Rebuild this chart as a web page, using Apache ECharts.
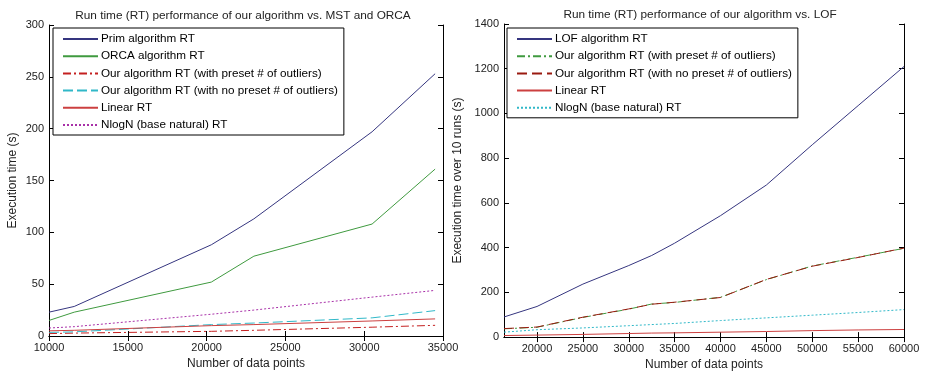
<!DOCTYPE html>
<html>
<head>
<meta charset="utf-8">
<script src="https://cdn.jsdelivr.net/npm/echarts@6/dist/echarts.min.js"></script>
<style>
  html, body { margin: 0; padding: 0; background: #fff; }
  .plot { position: absolute; left: 0; top: 0; width: 926px; height: 376px; }
</style>
</head>
<body>
<div id="leftChart" class="plot"></div>
<div id="rightChart" class="plot"></div>
<script>
// left: vs MST and ORCA
const leftX = [10000, 11600, 20300, 23000, 30500, 34500];
const primRT = [23, 28.5, 88, 113, 197, 253];
const orcaRT = [15, 23, 52, 77, 108, 161];
const oursPresetL = [2.3, 2.8, 4.5, 5.5, 8.5, 10.3];
const oursNoPresetL = [3.5, 4, 11, 12.5, 17.5, 24.5];
const linearL = [5, 5.5, 10, 11, 14.5, 16.5];
const nlognL = [7.7, 9, 21, 25, 37.5, 44];
const leftXTicks = [10000, 15000, 20000, 25000, 30000, 35000];

// right: vs LOF
const rightX = [16400, 20000, 25000, 30000, 32500, 35000, 40000, 45000, 50000, 55000, 60000];
const lofRT = [90, 137, 237, 320, 365, 420, 543, 680, 860, 1035, 1210];
const oursPresetR = [37, 44, 88, 125, 148, 155, 178, 257, 318, 357, 397];
const oursNoPresetR = [38, 45, 89, 126, 147, 156, 177, 258, 317, 356, 398];
const linearR = [7, 9, 12, 16, 18, 19, 22, 25, 29, 32, 34];
const nlognR = [22, 33, 41, 51, 56, 61, 74, 86, 98, 110, 123];
const rightXTicks = [20000, 25000, 30000, 35000, 40000, 45000, 50000, 55000, 60000];

const FONT = 'Liberation Sans, Arial, sans-serif';

function pairs(xs, ys) {
    return xs.map(function (x, i) { return [x, ys[i]]; });
}

function line(name, xs, ys, color, type) {
    return {
        name: name,
        type: 'line',
        symbol: 'none',
        data: pairs(xs, ys),
        lineStyle: { color: color, width: 1, type: type },
        itemStyle: { color: color },
        emphasis: { disabled: true },
        silent: true
    };
}

function plain(v) { return String(v); }

function boxAxes(xmin, xmax, xticks, ymin, ymax, yint, yname, ynameGap) {
    const axLine = { show: true, lineStyle: { color: '#000', width: 1 } };
    const tick = { inside: true, length: 5, lineStyle: { color: '#000' } };
    const lbl = { color: '#222', fontSize: 11, fontFamily: FONT, formatter: plain };
    return {
        xAxis: [
            {
                type: 'value', min: xmin, max: xmax, position: 'bottom',
                axisLine: axLine, splitLine: { show: false },
                axisTick: Object.assign({ customValues: xticks }, tick),
                axisLabel: Object.assign({ customValues: xticks, margin: 6 }, lbl),
                name: 'Number of data points', nameLocation: 'middle', nameGap: 20,
                nameTextStyle: { color: '#222', fontSize: 12, fontFamily: FONT }
            },
            {
                type: 'value', min: xmin, max: xmax, position: 'top',
                axisLine: axLine, splitLine: { show: false },
                axisTick: Object.assign({ customValues: xticks }, tick),
                axisLabel: { show: false }
            }
        ],
        yAxis: [
            {
                type: 'value', min: ymin, max: ymax, interval: yint, position: 'left',
                axisLine: axLine, splitLine: { show: false },
                axisTick: tick,
                axisLabel: Object.assign({ margin: 5 }, lbl),
                name: yname, nameLocation: 'middle', nameGap: ynameGap,
                nameTextStyle: { color: '#222', fontSize: 12, fontFamily: FONT }
            },
            {
                type: 'value', min: ymin, max: ymax, interval: yint, position: 'right',
                axisLine: axLine, splitLine: { show: false },
                axisTick: tick,
                axisLabel: { show: false }
            }
        ]
    };
}

function legendBox(left, top, names) {
    return {
        orient: 'vertical', left: left, top: top,
        data: names,
        itemWidth: 35, itemHeight: 10, itemGap: 5.2,
        padding: [5, 6, 4, 9],
        backgroundColor: '#fff',
        borderColor: '#000', borderWidth: 1, borderRadius: 0,
        selectedMode: false,
        itemStyle: { opacity: 0 },
        textStyle: { color: '#000', fontSize: 11.7, fontFamily: FONT, lineHeight: 12, padding: [0, 0, 0, -2] }
    };
}

const leftNames = ['Prim algorithm RT', 'ORCA algorithm RT',
    'Our algorithm RT (with preset # of outliers)',
    'Our algorithm RT (with no preset # of outliers)',
    'Linear RT', 'NlogN (base natural) RT'];

const leftChart = echarts.init(document.getElementById('leftChart'));
leftChart.setOption(Object.assign({
    animation: false,
    title: {
        text: 'Run time (RT) performance of our algorithm vs. MST and ORCA',
        left: 238, top: 5, textAlign: 'center',
        textStyle: { color: '#222', fontSize: 11.8, fontWeight: 'normal', fontFamily: FONT }
    },
    grid: { left: 49, top: 25, width: 394, height: 311 },
    legend: legendBox(53, 28, leftNames),
    series: [
        line(leftNames[0], leftX, primRT, '#35357f', 'solid'),
        line(leftNames[1], leftX, orcaRT, '#3f9a3f', 'solid'),
        line(leftNames[2], leftX, oursPresetL, '#c42020', [8, 3, 2, 3]),
        line(leftNames[3], leftX, oursNoPresetL, '#30b8c8', [10, 4]),
        line(leftNames[4], leftX, linearL, '#cc4040', 'solid'),
        line(leftNames[5], leftX, nlognL, '#a830a8', [2, 2])
    ]
}, boxAxes(10000, 35000, leftXTicks, 0, 300, 50, 'Execution time (s)', 30)));

const rightNames = ['LOF algorithm RT',
    'Our algorithm RT (with preset # of outliers)',
    'Our algorithm RT (with no preset # of outliers)',
    'Linear RT', 'NlogN (base natural) RT'];

const rightChart = echarts.init(document.getElementById('rightChart'));
rightChart.setOption(Object.assign({
    animation: false,
    title: {
        text: 'Run time (RT) performance of our algorithm vs. LOF',
        left: 695, top: 4, textAlign: 'center',
        textStyle: { color: '#222', fontSize: 11.8, fontWeight: 'normal', fontFamily: FONT }
    },
    grid: { left: 504, top: 24, width: 400, height: 316 },
    legend: legendBox(507, 28, rightNames),
    series: [
        line(rightNames[0], rightX, lofRT, '#35357f', 'solid'),
        line(rightNames[1], rightX, oursPresetR, '#3f9a3f', [8, 3, 2, 3]),
        line(rightNames[2], rightX, oursNoPresetR, '#9a1a10', [10, 5]),
        line(rightNames[3], rightX, linearR, '#cc4040', 'solid'),
        line(rightNames[4], rightX, nlognR, '#30b8c8', [2, 2])
    ]
}, boxAxes(16400, 60000, rightXTicks, 0, 1400, 200, 'Execution time over 10 runs (s)', 40)));
</script>
</body>
</html>
